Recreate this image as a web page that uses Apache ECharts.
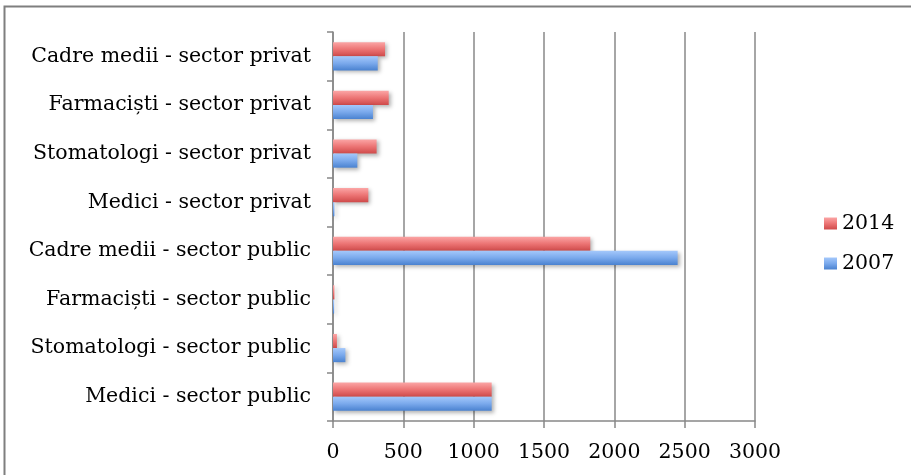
<!DOCTYPE html>
<html><head><meta charset="utf-8">
<script src="https://cdn.jsdelivr.net/npm/echarts@6/dist/echarts.min.js"></script>
<style>html,body{margin:0;padding:0;background:#fff}#c{width:911px;height:475px}</style>
</head><body><div id="c"></div>
<script>
var categories = ["Medici - sector public","Stomatologi - sector public","Farmaciști - sector public","Cadre medii - sector public","Medici - sector privat","Stomatologi - sector privat","Farmaciști - sector privat","Cadre medii - sector privat"];
var values2014 = [1128, 28, 10, 1829, 251, 310, 396, 370];
var values2007 = [1128, 88, 8, 2450, 10, 173, 284, 318];
var xTicks = [0, 500, 1000, 1500, 2000, 2500, 3000];

var font = "'DejaVu Serif', serif";
function grad(top, mid, bot){
  return new echarts.graphic.LinearGradient(0,0,0,1,[{offset:0,color:top},{offset:0.5,color:mid},{offset:1,color:bot}]);
}
var chart = echarts.init(document.getElementById('c'));
chart.setOption({
  animation:false,
  graphic:[{type:'rect',shape:{x:4.5,y:6.5,width:920,height:480},style:{fill:'none',stroke:'#7f7f7f',lineWidth:2},z:-1}],
  grid:{left:333,right:156,top:32,bottom:54},
  legend:{orient:'vertical',left:824,top:213,padding:0,itemWidth:13,itemHeight:12,itemGap:19,
    textStyle:{fontFamily:font,fontSize:20.5,color:'#000'},
    data:[{name:'2014',icon:'rect'},{name:'2007',icon:'rect'}]},
  xAxis:{type:'value',min:0,max:3000,interval:500,
    axisLine:{show:true,lineStyle:{color:'#888',width:1.5}},
    axisTick:{show:true,length:7,lineStyle:{color:'#888',width:1.5}},
    axisLabel:{fontFamily:font,fontSize:20.5,color:'#000',margin:21,
      formatter:function(v){return xTicks.indexOf(v)>=0?String(v):'';}},
    splitLine:{show:true,lineStyle:{color:'#888',width:1.5}}},
  yAxis:{type:'category',data:categories,
    axisLine:{show:true,lineStyle:{color:'#888',width:1.5}},
    axisTick:{show:true,length:6,lineStyle:{color:'#888',width:1.5}},
    axisLabel:{fontFamily:font,fontSize:20.5,color:'#000',margin:22}},
  series:[
    {name:'2014',type:'bar',data:values2014,barGap:'0%',barCategoryGap:'42%',
     itemStyle:{color:grad('#fba5a5','#ec7474','#cf4a4a'),shadowColor:'rgba(0,0,0,0.3)',shadowBlur:4,shadowOffsetX:2,shadowOffsetY:2}},
    {name:'2007',type:'bar',data:values2007,barGap:'0%',barCategoryGap:'42%',
     itemStyle:{color:grad('#a4c8fb','#7aa9ec','#4a82d0'),shadowColor:'rgba(0,0,0,0.3)',shadowBlur:4,shadowOffsetX:2,shadowOffsetY:2}}
  ]
});
</script></body></html>
